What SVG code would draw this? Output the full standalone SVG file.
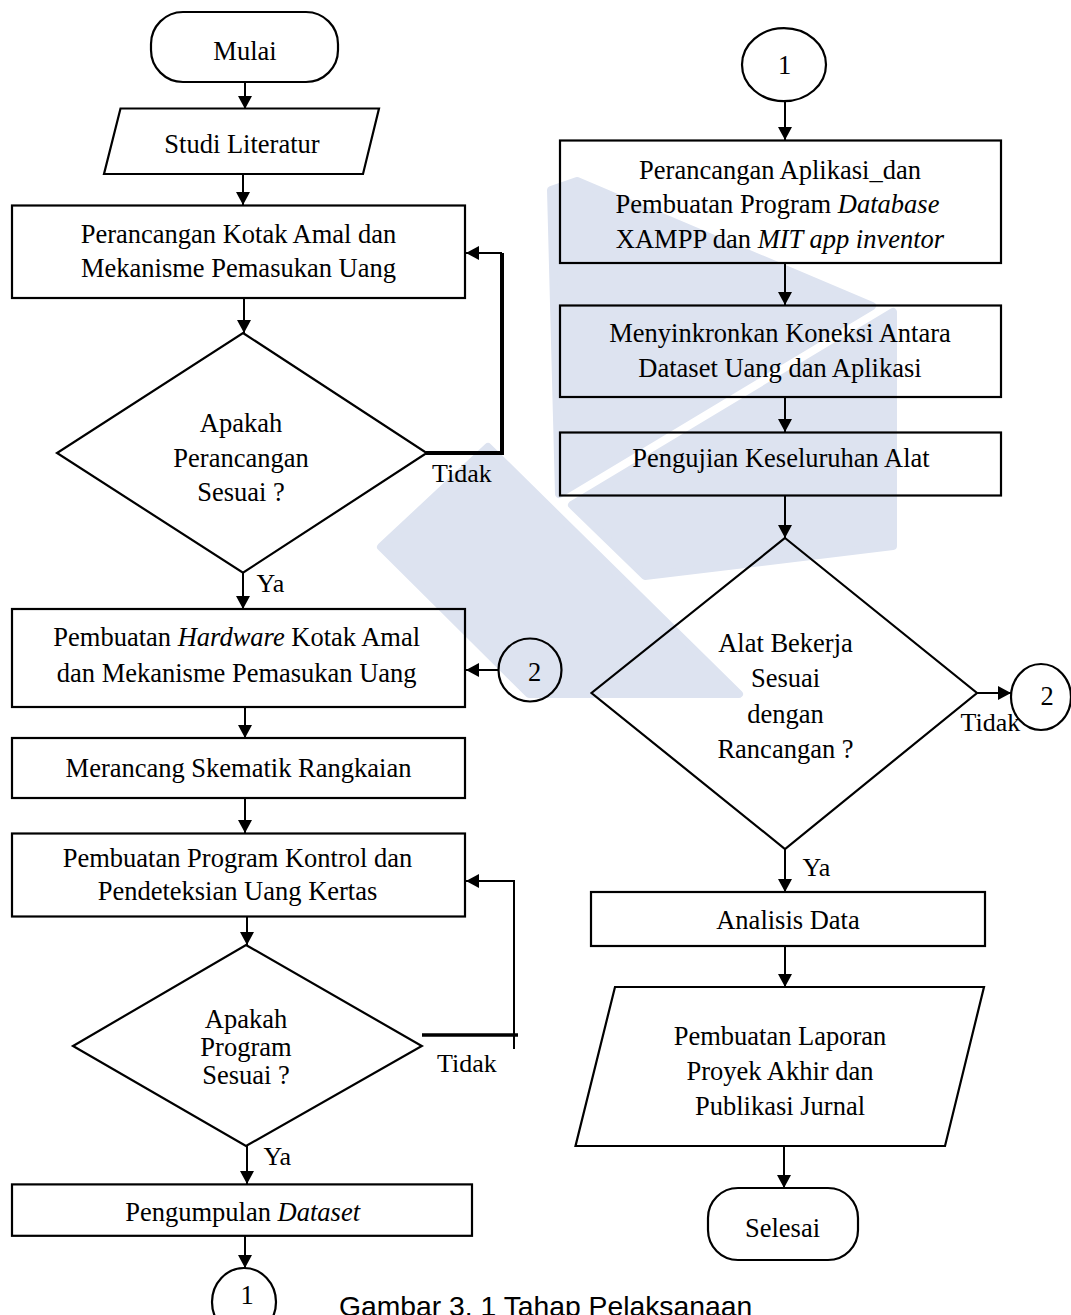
<svg xmlns="http://www.w3.org/2000/svg" width="1071" height="1315" viewBox="0 0 1071 1315">
<style>
.n{fill:none;stroke:#000;stroke-width:2.2}
.t{font-family:"Liberation Serif","Times New Roman",serif;font-size:26.5px;fill:#000;text-anchor:middle}
.l{font-family:"Liberation Serif","Times New Roman",serif;font-size:26px;fill:#000}
.c{stroke:#000;stroke-width:2;fill:none}
.wm{fill:#dde3f0;stroke:#dde3f0;stroke-width:8;stroke-linejoin:round}
</style>
<defs>
<marker id="ah" markerUnits="userSpaceOnUse" markerWidth="14" markerHeight="14" refX="13" refY="7" orient="auto"><path d="M0,0 L13,7 L0,14 z" fill="#000"/></marker>
</defs>
<rect width="1071" height="1315" fill="#fff"/>
<g id="watermark">
<polygon class="wm" points="381,547 488,447 739,694 529,694"/>
<polygon class="wm" points="551,190 577,181 872,306 559,494"/>
<polygon class="wm" points="572,505 893,312 893,546 645,576"/>
</g>
<g id="connectors">
<path class="c" d="M245,82 V109" marker-end="url(#ah)"/>
<path class="c" d="M243,174 V205" marker-end="url(#ah)"/>
<path class="c" d="M244,298 V333" marker-end="url(#ah)"/>
<path d="M426,453 H502 V253" fill="none" stroke="#000" stroke-width="4"/>
<path class="c" d="M502,253 H466" marker-end="url(#ah)"/>
<path class="c" d="M243,573 V609" marker-end="url(#ah)"/>
<path class="c" d="M498,670 H466" marker-end="url(#ah)"/>
<path class="c" d="M245,707 V738" marker-end="url(#ah)"/>
<path class="c" d="M245,798 V833" marker-end="url(#ah)"/>
<path class="c" d="M247,916 V945" marker-end="url(#ah)"/>
<path d="M422,1035 H518" fill="none" stroke="#000" stroke-width="3.5"/>
<path class="c" d="M514,1049 V881 H466" marker-end="url(#ah)"/>
<path class="c" d="M247,1146 V1184" marker-end="url(#ah)"/>
<path class="c" d="M245,1236 V1268" marker-end="url(#ah)"/>
<path class="c" d="M785,101 V140" marker-end="url(#ah)"/>
<path class="c" d="M785,263 V305" marker-end="url(#ah)"/>
<path class="c" d="M785,397 V432" marker-end="url(#ah)"/>
<path class="c" d="M785,496 V538" marker-end="url(#ah)"/>
<path class="c" d="M977,693 H1011" marker-end="url(#ah)"/>
<path class="c" d="M785,849 V892" marker-end="url(#ah)"/>
<path class="c" d="M785,946 V987" marker-end="url(#ah)"/>
<path class="c" d="M784,1146 V1188" marker-end="url(#ah)"/>
</g>
<g id="mulai"><rect class="n" x="151" y="12" width="187" height="70" rx="32"/><text class="t" x="245" y="59.5">Mulai</text></g>
<g id="studi"><polygon class="n" points="120.5,108.5 379,108.5 363,174 104,174"/><text class="t" x="242" y="152.5">Studi Literatur</text></g>
<g id="box1"><rect class="n" x="12" y="205.5" width="453" height="92.5"/><text class="t" x="238.5" y="242.7">Perancangan Kotak Amal dan</text><text class="t" x="238.5" y="277.3">Mekanisme Pemasukan Uang</text></g>
<g id="dec1"><polygon class="n" points="243,333 426.7,453 243,572.7 57,453"/><text class="t" x="241" y="431.7">Apakah</text><text class="t" x="241" y="466.7">Perancangan</text><text class="t" x="241" y="501">Sesuai ?</text></g>
<text class="l" x="432" y="482">Tidak</text>
<text class="l" x="256.5" y="592">Ya</text>
<g id="box2"><rect class="n" x="12" y="609" width="453" height="98"/><text class="t" x="236.7" y="646">Pembuatan <tspan font-style="italic">Hardware</tspan> Kotak Amal</text><text class="t" x="236.7" y="681.7">dan Mekanisme Pemasukan Uang</text></g>
<g id="conn2a"><circle class="n" cx="530" cy="670" r="31.5"/><text class="t" x="534.5" y="681" font-size="21">2</text></g>
<g id="box3"><rect class="n" x="12" y="738" width="453" height="60"/><text class="t" x="238.5" y="776.7">Merancang Skematik Rangkaian</text></g>
<g id="box4"><rect class="n" x="12" y="833.5" width="453" height="83"/><text class="t" x="237.5" y="866.5" font-size="24">Pembuatan Program Kontrol dan</text><text class="t" x="237.5" y="899.5" font-size="24">Pendeteksian Uang Kertas</text></g>
<g id="dec2"><polygon class="n" points="246,945 421.8,1046 246,1146 73,1046"/><text class="t" x="246" y="1028" font-size="20.5">Apakah</text><text class="t" x="246" y="1056" font-size="20.5">Program</text><text class="t" x="246" y="1084" font-size="20.5">Sesuai ?</text></g>
<text class="l" x="437" y="1072">Tidak</text>
<text class="l" x="263.4" y="1165.4">Ya</text>
<g id="box5"><rect class="n" x="12" y="1184.4" width="460" height="51.4"/><text class="t" x="242.6" y="1221">Pengumpulan <tspan font-style="italic">Dataset</tspan></text></g>
<g id="conn1b"><ellipse class="n" cx="244" cy="1302" rx="32" ry="34"/><text class="t" x="247" y="1304" font-size="12">1</text></g>
<text x="339" y="1316" font-family="Liberation Sans, Arial, sans-serif" font-size="28.3" fill="#000">Gambar 3. 1 Tahap Pelaksanaan</text>
<g id="conn1a"><ellipse class="n" cx="784" cy="64.7" rx="42" ry="36.5"/><text class="t" x="784.5" y="74" font-size="21">1</text></g>
<g id="r1"><rect class="n" x="560" y="140.5" width="441" height="122.5"/><text class="t" x="780" y="179.3">Perancangan Aplikasi_dan</text><text class="t" x="777.5" y="213.3">Pembuatan Program <tspan font-style="italic">Database</tspan></text><text class="t" x="780" y="248.3">XAMPP dan <tspan font-style="italic">MIT app inventor</tspan></text></g>
<g id="r2"><rect class="n" x="560" y="305.5" width="441" height="91.5"/><text class="t" x="780" y="341.5">Menyinkronkan Koneksi Antara</text><text class="t" x="780" y="377">Dataset Uang dan Aplikasi</text></g>
<g id="r3"><rect class="n" x="560" y="432.5" width="441" height="63"/><text class="t" x="781" y="466.5">Pengujian Keseluruhan Alat</text></g>
<g id="decR"><polygon class="n" points="785,538 977,693 785,849 591.5,693"/><text class="t" x="785.5" y="652">Alat Bekerja</text><text class="t" x="785.5" y="687">Sesuai</text><text class="t" x="785.5" y="723">dengan</text><text class="t" x="785.5" y="757.5">Rancangan ?</text></g>
<text class="l" x="960.6" y="730.7" font-size="23.5">Tidak</text>
<g id="conn2b"><ellipse class="n" cx="1041" cy="697" rx="30" ry="33"/><text class="t" x="1047" y="705" font-size="20">2</text></g>
<text class="l" x="802.5" y="875.5">Ya</text>
<g id="analisis"><rect class="n" x="591" y="892" width="394" height="54"/><text class="t" x="788" y="928.5">Analisis Data</text></g>
<g id="laporan"><polygon class="n" points="615,987 984,987 945,1146 575.5,1146"/><text class="t" x="780" y="1045">Pembuatan Laporan</text><text class="t" x="780" y="1080">Proyek Akhir dan</text><text class="t" x="780" y="1115">Publikasi Jurnal</text></g>
<g id="selesai"><rect class="n" x="708" y="1188" width="150" height="72" rx="30"/><text class="t" x="782.5" y="1237">Selesai</text></g>
</svg>
